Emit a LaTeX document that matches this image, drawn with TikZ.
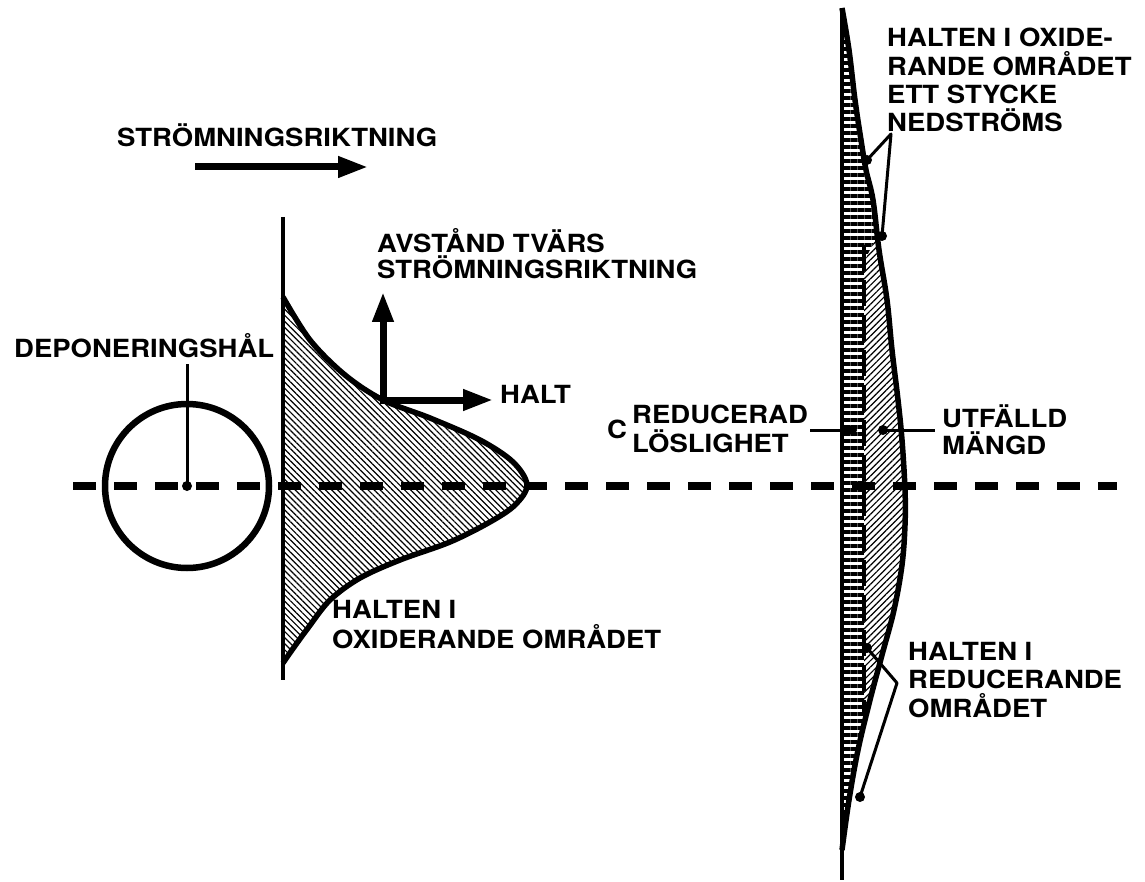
\documentclass[tikz,border=0pt]{standalone}
\usepackage{fontspec}
\newfontfamily\hv[FakeStretch=1.1]{TeX Gyre Heros}
\usetikzlibrary{arrows.meta,patterns.meta}
\begin{document}
\begin{tikzpicture}[x=1pt,y=-1pt,
  lab/.style={font=\hv\bfseries\fontsize{25}{28}\selectfont, inner sep=0pt, anchor=base west},
  thickarrow/.style={line width=7pt, -{Triangle[length=30pt,width=20pt]}},
  dot/.style={circle, fill=black, inner sep=0pt, minimum size=10pt},
  leader/.style={line width=3pt},
  dashline/.style={line width=8pt, dash pattern=on 23pt off 18pt},
  curve/.style={line width=5.5pt},
  axisline/.style={line width=4pt},
]
\useasboundingbox (0,0) rectangle (1145,882);

% ---------- left profile (oxidising zone) ----------
\def\leftpts{(283,297) (310,340) (345,375) (383,400) (430,418) (480,440) (513,462) (527,485) (515,505) (490,522) (450,542) (400,560) (360,578) (330,600) (308,628) (292,650) (283,663)}
\fill[pattern={Lines[angle=-45,distance=4.3pt,line width=1.2pt]}]
  (283,297) -- plot[smooth,tension=0.55] coordinates {\leftpts} -- cycle;
\draw[curve] plot[smooth,tension=0.55] coordinates {\leftpts};

\coordinate (lvt) at (283,217);
\coordinate (lvb) at (283,680);
\draw[axisline] (lvt) -- (lvb);

% ---------- right profile ----------
\def\outerpts{(842,8) (849,50) (855,100) (861,140) (866,170) (873,200) (879,250) (887,300) (892,350) (898,400) (902,440) (905,490) (905,525) (902,565) (894,610) (882,655) (870,700) (858,750) (849,800) (842,850)}
\fill[pattern={Lines[angle=0,distance=7pt,line width=3.5pt]}]
  (842,8) -- plot[smooth,tension=0.6] coordinates {\outerpts} -- cycle;
\begin{scope}
  \clip (842,8) -- plot[smooth,tension=0.6] coordinates {\outerpts} -- cycle;
  \fill[white] (864,262) -- (884,222) -- (940,222) -- (940,712) -- (864,712) -- cycle;
  \fill[pattern={Lines[angle=45,distance=4.5pt,line width=1.2pt]}]
    (864,262) -- (884,222) -- (940,222) -- (940,712) -- (864,712) -- cycle;
\end{scope}
\coordinate (inT) at (864,245);
\coordinate (inB) at (864,712);
\draw[line width=3.5pt, dash pattern=on 26pt off 9pt] (inT) -- (inB);
\draw[curve] plot[smooth,tension=0.6] coordinates {\outerpts};
\coordinate (rvt) at (842,8);
\coordinate (rvb) at (842,880);
\draw[axisline] (rvt) -- (rvb);

% ---------- dashed centre line ----------
\coordinate (hl) at (73,486);
\coordinate (hr) at (1117,486);
\draw[dashline] (hl) -- (hr);

% ---------- deposition hole ----------
\node[circle, draw, line width=6.5pt, minimum size=164pt, inner sep=0pt] (hole) at (187,486) {};
\node[dot] (hc) at (187,486) {};
\node[lab] (dep) at (14,357) {DEPONERINGSHÅL};
\coordinate (depl) at (187,364);
\draw[leader] (depl) -- (hc.center);

% ---------- flow direction ----------
\node[lab] (flow) at (117,147) {STRÖMNINGSRIKTNING};
\coordinate (fa) at (195,167);
\coordinate (fb) at (368,167);
\draw[thickarrow] (fa) -- (fb);

% ---------- axes ----------
\coordinate (org) at (383,400);
\coordinate (ytip) at (383,292);
\coordinate (xtip) at (493,400);
\draw[thickarrow] ([yshift=3.5pt]org) -- (ytip);
\draw[thickarrow] ([xshift=-3.5pt]org) -- (xtip);
\node[lab] (av1) at (377,253) {AVSTÅND TVÄRS};
\node[lab] (av2) at (377,279) {STRÖMNINGSRIKTNING};
\node[lab] (halt) at (500,403) {HALT};

\node[lab] (ho1) at (332,618) {HALTEN I};
\node[lab] (ho2) at (332,648) {OXIDERANDE OMRÅDET};

% ---------- right labels ----------
\node[lab] (t1) at (887,47) {HALTEN I OXIDE-};
\node[lab] (t2) at (887,76) {RANDE OMRÅDET};
\node[lab] (t3) at (887,104) {ETT STYCKE};
\node[lab] (t4) at (887,132) {NEDSTRÖMS};
\node[dot] (td1) at (867,160) {};
\node[dot] (td2) at (882,236) {};
\coordinate (tv) at (891,134);
\draw[leader, line join=round] (td1.center) -- (tv) -- (td2.center);

\node[lab] (cc) at (607,438) {C};
\node[lab] (r1) at (632,423) {REDUCERAD};
\node[lab] (r2) at (632,452) {LÖSLIGHET};
\node[dot] (rd) at (852,430) {};
\coordinate (rl) at (810,430);
\draw[leader] (rl) -- (rd.center);

\node[lab] (u1) at (942,427) {UTFÄLLD};
\node[lab] (u2) at (942,454) {MÄNGD};
\node[dot] (ud) at (883,430) {};
\coordinate (ul) at (935,430);
\draw[leader] (ud.center) -- (ul);

\node[lab] (b1) at (908,660) {HALTEN I};
\node[lab] (b2) at (908,688) {REDUCERANDE};
\node[lab] (b3) at (908,717) {OMRÅDET};
\node[dot] (bd1) at (867,648) {};
\node[dot] (bd2) at (860,797) {};
\coordinate (bv) at (897,683);
\draw[leader, line join=round] (bd1.center) -- (bv) -- (bd2.center);
\end{tikzpicture}
\end{document}
